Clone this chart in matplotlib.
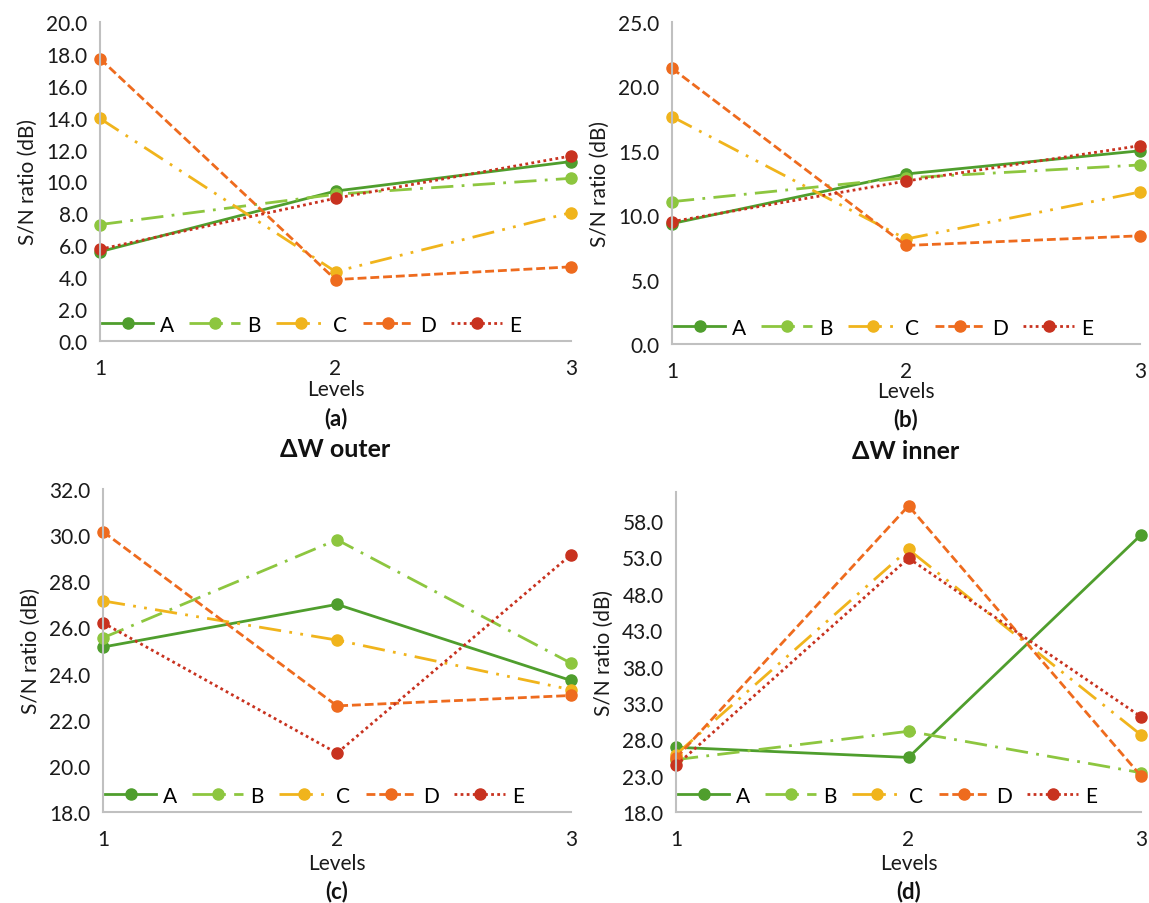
import matplotlib.pyplot as plt

levels = [1, 2, 3]
names = ["A", "B", "C", "D", "E"]

# S/N ratios, one list per factor, per panel
outer_a = [[5.6, 9.4, 11.25], [7.3, 9.2, 10.2], [13.95, 4.35, 8.05], [17.7, 3.85, 4.65], [5.75, 8.95, 11.6]]
inner_b = [[9.35, 13.2, 15.0], [11.05, 12.9, 13.9], [17.65, 8.15, 11.8], [21.4, 7.65, 8.4], [9.5, 12.65, 15.4]]
panel_c = [[25.15, 27.0, 23.7], [25.55, 29.8, 24.45], [27.15, 25.45, 23.3], [30.15, 22.6, 23.05], [26.2, 20.55, 29.15]]
panel_d = [[26.9, 25.5, 56.1], [25.2, 29.1, 23.4], [25.9, 54.1, 28.6], [25.4, 60.1, 22.95], [24.4, 52.9, 31.1]]

colors = ["#4f9e2d", "#8dc63f", "#f0b41c", "#ee6b1e", "#c8321f"]
styles = ["-", (0, (8, 3, 1, 3)), (0, (8, 3, 1, 3, 1, 3)), (0, (3.2, 1.4)), (0, (1, 1.2))]

plt.rcParams["font.family"] = ["Lato", "DejaVu Sans"]

W, H = 1149, 904
fig = plt.figure(figsize=(W / 100, H / 100), dpi=100)


def fx(px):
    return px / W


def fy(py):
    return 1 - py / H


panels = [
    (outer_a, (100, 571, 23, 342), (0, 20), [0, 2, 4, 6, 8, 10, 12, 14, 16, 18, 20], "(a)", "ΔW outer", (365, 390, 419, 450)),
    (inner_b, (672, 1140, 23, 345), (0, 25), [0, 5, 10, 15, 20, 25], "(b)", "ΔW inner", (367, 392, 420, 452)),
    (panel_c, (103, 571, 490, 813), (18, 32), [18, 20, 22, 24, 26, 28, 30, 32], "(c)", None, (840, 864, 892, None)),
    (panel_d, (676, 1141, 493, 813), (18, 62), [18, 23, 28, 33, 38, 43, 48, 53, 58], "(d)", None, (840, 864, 892, None)),
]

for data, box, ylim, yticks, tag, title, ys in panels:
    x0, x1, y0, y1 = box
    ax = fig.add_axes([fx(x0), fy(y1), fx(x1 - x0), (y1 - y0) / H])
    for i in range(5):
        ax.plot(levels, data[i], color=colors[i], linestyle=styles[i], lw=2.0,
                marker="o", markersize=8, label=names[i], clip_on=False)
    ax.set_xlim(1, 3)
    ax.set_ylim(*ylim)
    ax.set_xticks(levels)
    ax.set_yticks(yticks)
    ax.set_yticklabels(["%.1f" % v for v in yticks])
    ax.tick_params(length=0, labelsize=15, colors="#1a1a1a")
    ax.tick_params(axis="x", pad=12)
    ax.tick_params(axis="y", pad=9)
    for s in ["top", "right"]:
        ax.spines[s].set_visible(False)
    for s in ["left", "bottom"]:
        ax.spines[s].set_color("#c0c0c0")
        ax.spines[s].set_linewidth(1.5)
    ax.set_ylabel("S/N ratio (dB)", fontsize=15, color="#1a1a1a", labelpad=6)
    ax.legend(loc="lower left", bbox_to_anchor=(0.005, 0.02), ncol=5, frameon=False,
              fontsize=15, handlelength=2.45, handletextpad=0.3, columnspacing=0.75,
              borderaxespad=0.0, borderpad=0.0)
    cx = fx((x0 + x1) / 2)
    fig.text(cx, fy(ys[1]), "Levels", ha="center", va="center", fontsize=15, color="#1a1a1a")
    fig.text(cx, fy(ys[2]), tag, ha="center", va="center", fontsize=16, fontweight="bold", color="#111111")
    if title:
        fig.text(cx, fy(ys[3]), title, ha="center", va="center", fontsize=18, fontweight="bold", color="#111111")

fig.savefig("out.png", dpi=100)
